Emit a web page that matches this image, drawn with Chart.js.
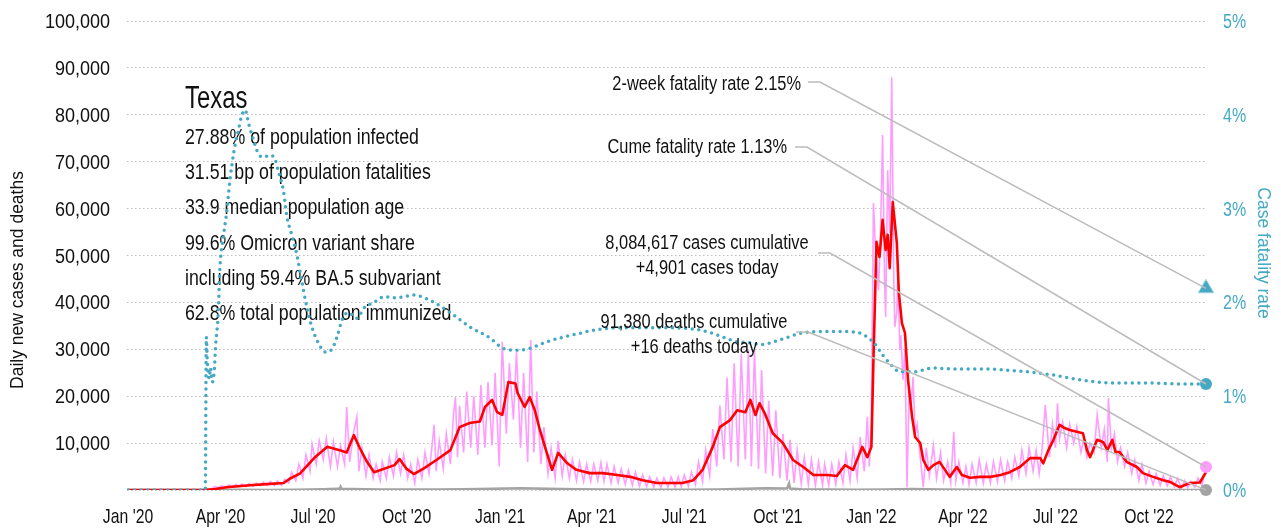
<!DOCTYPE html>
<html>
<head>
<meta charset="utf-8">
<script src="https://cdn.jsdelivr.net/npm/chart.js@4.4.1/dist/chart.umd.min.js"></script>
<style>
  html, body { margin: 0; padding: 0; background: #fff; }
  #wrap { width: 1281px; height: 529px; }
</style>
</head>
<body>
<div id="wrap"><canvas id="chart" width="1281" height="529"></canvas></div>
<script>
// x values are days since 1 Jan 2020
const quarterDays = [0, 91, 182, 274, 366, 456, 547, 639, 731, 821, 912, 1004];
const quarterLabels = ["Jan '20", "Apr '20", "Jul '20", "Oct '20", "Jan '21", "Apr '21",
                       "Jul '21", "Oct '21", "Jan '22", "Apr '22", "Jul '22", "Oct '22"];

// 7-day average of new cases (red)
const avgDays = [0, 75, 86, 97, 120, 140, 153, 159, 169, 183, 196, 208, 215, 222, 228, 235, 242, 262, 267, 274,
  281, 291, 304, 317, 326, 336, 346, 351, 358, 363, 368, 374, 381, 383, 390, 395, 400, 405, 410, 417,
  423, 432, 441, 454, 467, 481, 494, 506, 520, 532, 545, 556, 565, 575, 582, 592, 599, 607, 612, 617,
  621, 626, 634, 644, 654, 664, 674, 688, 697, 705, 713, 722, 727, 731, 733, 736, 739, 742, 745, 747,
  749, 752, 756, 758, 761, 764, 767, 771, 774, 779, 782, 787, 792, 798, 808, 815, 820, 828, 838, 848,
  858, 867, 877, 887, 897, 900, 905, 910, 916, 921, 926, 933, 939, 943, 946, 953, 959, 963, 968, 971,
  975, 982, 992, 998, 1008, 1018, 1025, 1034, 1044, 1054, 1060];
const avgCases = [0, 0, 200, 600, 1000, 1300, 1500, 2400, 3500, 6800, 9200, 8500, 8000, 11700, 8900, 6000, 3800, 5300, 6600, 4500,
  3400, 4600, 6500, 8500, 13400, 14300, 14600, 17700, 19200, 16600, 16000, 23000, 22700, 20700, 17700, 19800, 17000, 12800, 9200, 4300,
  7900, 5700, 4300, 3600, 3600, 3200, 2800, 2100, 1500, 1500, 1500, 2100, 4300, 9200, 13400, 14900, 17000, 16600, 19200, 16000,
  18500, 16400, 12100, 10000, 6400, 4900, 3200, 3200, 3000, 5300, 4300, 9200, 7000, 9200, 27700, 52900, 49700, 57600, 51200, 54400,
  47300, 61400, 52700, 42000, 35600, 33500, 23500, 15600, 11300, 10000, 6400, 4300, 5300, 6000, 2800, 4900, 3200, 2600, 2800, 2800,
  3200, 3800, 4900, 6800, 6800, 5700, 8500, 10700, 13900, 13200, 12800, 12400, 12100, 8500, 7000, 10700, 10200, 8500, 10700, 8100,
  8100, 6000, 4900, 3600, 2800, 2100, 1700, 600, 1500, 1600, 3800];

// reported daily new cases (pink)
const dailyDays = [0, 68, 75, 78, 82, 85, 89, 92, 96, 99, 103, 106, 109, 112, 116, 119, 123, 126, 130, 133,
  137, 140, 144, 147, 151, 154, 158, 161, 165, 168, 172, 175, 179, 181, 185, 188, 192, 195, 199, 202,
  206, 209, 213, 215, 218, 222, 225, 227, 230, 234, 237, 241, 244, 248, 250, 254, 257, 261, 264, 268,
  271, 275, 278, 282, 285, 289, 292, 296, 299, 301, 303, 306, 310, 313, 317, 320, 322, 324, 326, 330,
  333, 337, 340, 344, 347, 351, 354, 358, 361, 365, 368, 372, 375, 379, 382, 386, 389, 393, 396, 399,
  402, 406, 409, 413, 416, 420, 423, 427, 430, 434, 437, 441, 444, 448, 451, 455, 458, 462, 465, 468,
  471, 475, 478, 482, 485, 489, 492, 496, 499, 503, 506, 510, 513, 517, 520, 524, 527, 531, 534, 538,
  541, 544, 547, 551, 554, 558, 561, 565, 568, 572, 575, 579, 582, 586, 589, 593, 596, 600, 603, 607,
  610, 613, 616, 620, 623, 627, 630, 634, 637, 641, 644, 648, 651, 655, 658, 662, 665, 669, 672, 676,
  679, 683, 685, 689, 692, 696, 699, 703, 706, 710, 713, 717, 720, 724, 727, 729, 731, 733, 735, 738,
  740, 742, 744, 745, 747, 749, 751, 753, 754, 756, 757, 759, 760, 762, 764, 766, 768, 770, 772, 774,
  776, 779, 782, 785, 788, 792, 795, 799, 802, 806, 809, 812, 814, 817, 821, 824, 827, 830, 834, 837,
  841, 844, 848, 851, 855, 858, 862, 865, 869, 872, 876, 879, 883, 886, 890, 893, 896, 899, 902, 906,
  909, 912, 914, 916, 919, 923, 926, 930, 933, 937, 940, 943, 946, 950, 953, 957, 960, 963, 964, 967,
  970, 973, 976, 980, 983, 987, 990, 994, 997, 1001, 1004, 1008, 1011, 1015, 1018, 1022, 1025, 1029, 1032, 1036,
  1039, 1042, 1045, 1049, 1052, 1056, 1060];
const dailyCases = [0, 0, 100, 300, 200, 700, 500, 900, 600, 1100, 700, 1200, 800, 1300, 700, 1400, 800, 1500, 900, 1700,
  1000, 1800, 900, 1900, 1000, 2300, 1500, 3800, 2000, 5500, 2500, 7500, 4000, 9800, 5500, 10500, 6500, 11000, 5000, 10200,
  5000, 9500, 5500, 17700, 6000, 12500, 15600, 4000, 9000, 3000, 7500, 2500, 5500, 2000, 6000, 2500, 7000, 3000, 8100, 3500,
  7500, 2500, 5500, 1500, 6500, 2500, 8000, 3500, 9500, 13900, 4000, 10500, 4500, 12000, 5500, 16000, 19800, 7000, 18000, 8000,
  21000, 9000, 20000, 7500, 22400, 9000, 23000, 9500, 25000, 5000, 31600, 12000, 27000, 15000, 29400, 9000, 25000, 6000, 32000, 8000,
  21000, 5500, 13400, 3500, 9000, 2500, 10500, 3000, 7500, 2500, 6500, 2000, 6000, 1800, 5500, 1800, 5500, 2000, 5800, 1800,
  5500, 1500, 5000, 1500, 4500, 1200, 4200, 1000, 3800, 800, 3200, 700, 2800, 600, 2500, 500, 2600, 600, 2800, 600,
  2800, 700, 3200, 800, 3800, 1200, 6000, 1800, 8500, 3000, 13000, 5000, 18000, 6500, 24000, 6000, 27000, 5000, 29000, 6500,
  30000, 5000, 29800, 4500, 25600, 3500, 19000, 3000, 17000, 2500, 12000, 2000, 10700, 1500, 8500, 1300, 7000, 1200, 6500, 1000,
  6000, 1000, 5500, 1000, 5500, 1200, 6000, 1500, 7500, 2000, 9000, 2500, 11300, 4000, 15600, 5000, 14900, 61200, 51800, 42600,
  55000, 75700, 44000, 36900, 68200, 54800, 88000, 45000, 34800, 38000, 45400, 29800, 33000, 23500, 30000, 600, 20000, 18000, 24100, 12000,
  14000, 7000, 600, 9000, 3000, 9500, 2500, 8000, 2000, 6000, 1500, 12400, 2000, 6000, 1500, 5000, 1200, 5500, 1500, 6400,
  1500, 5500, 1500, 6000, 1800, 6400, 2000, 6000, 2500, 7000, 3000, 8500, 3500, 9000, 4000, 8500, 3500, 9000, 18100, 7000,
  14000, 9000, 18500, 11000, 14500, 9000, 14000, 10000, 13500, 8000, 11000, 7000, 10000, 8000, 16000, 9000, 13000, 6000, 19600, 9000,
  12000, 6000, 9000, 5000, 8000, 3500, 6400, 2000, 5500, 1500, 4000, 1200, 3500, 1000, 3000, 900, 2800, 700, 2500, 300,
  2000, 500, 1800, 600, 2500, 1000, 4901];

// daily new deaths (grey)
const deathDays = [0, 68, 82, 109, 137, 165, 192, 206, 208, 209, 210, 220, 248, 275, 303, 330, 358, 386, 399, 413,
  441, 468, 496, 524, 551, 579, 607, 627, 648, 650, 651, 662, 689, 717, 745, 772, 800, 827, 855, 883,
  910, 938, 966, 993, 1021, 1048, 1060];
const deaths = [0, 0, 20, 30, 25, 40, 150, 250, 250, 700, 250, 200, 120, 90, 100, 150, 250, 350, 300, 250,
  150, 80, 50, 30, 30, 100, 250, 350, 300, 1400, 300, 150, 80, 50, 100, 200, 100, 30, 20, 15,
  30, 50, 40, 30, 20, 15, 16];

// case fatality rate, % (teal dotted, right axis)
const cfrDays = [0, 76, 77, 78, 80, 81, 83, 85, 86, 89, 90, 94, 97, 100, 104, 109, 112, 115, 119, 124,
  129, 134, 139, 144, 148, 153, 156, 161, 166, 171, 176, 181, 188, 194, 201, 206, 211, 217, 225, 232,
  242, 252, 262, 271, 281, 291, 301, 317, 336, 356, 369, 383, 395, 412, 428, 444, 461, 494, 526, 560,
  575, 585, 599, 612, 621, 641, 661, 680, 700, 717, 727, 735, 742, 749, 759, 772, 792, 811, 841, 874,
  907, 939, 972, 1005, 1037, 1060];
const cfrPct = [0, 0, 1.63, 1.36, 1.19, 1.30, 1.15, 1.30, 1.51, 1.94, 2.29, 2.72, 2.96, 3.28, 3.60, 3.86, 4.00, 4.05, 3.89, 3.71,
  3.57, 3.55, 3.57, 3.54, 3.39, 3.18, 2.93, 2.72, 2.51, 2.22, 1.94, 1.73, 1.55, 1.47, 1.51, 1.65, 1.83, 1.89, 1.83, 1.94,
  2.00, 2.06, 2.05, 2.06, 2.08, 2.05, 2.00, 1.89, 1.74, 1.62, 1.51, 1.49, 1.51, 1.58, 1.63, 1.67, 1.71, 1.73, 1.73, 1.71,
  1.67, 1.63, 1.58, 1.57, 1.55, 1.60, 1.67, 1.69, 1.69, 1.68, 1.63, 1.55, 1.44, 1.35, 1.26, 1.26, 1.30, 1.29, 1.29, 1.27,
  1.23, 1.17, 1.14, 1.14, 1.13, 1.13];

const lastDay = 1060;
const casesToday = 4901;
const deathsToday = 16;
const cumeRate = 1.13;
const twoWeekRate = 2.15;

const infoLines = [
  '27.88% of population infected',
  '31.51 bp of population fatalities',
  '33.9 median population age',
  '99.6% Omicron variant share',
  'including 59.4% BA.5 subvariant',
  '62.8% total population immunized'
];

const TEAL = '#45a9c4';
const PINK = '#ff9dff';
const SANS = "'Liberation Sans', Arial, sans-serif";

const pts = (xs, ys) => xs.map((d, i) => ({ x: d, y: ys[i] }));

// no narrow face is installed, so squeeze the text horizontally
function narrowText(ctx, text, x, y, size, align, sx, color) {
  ctx.save();
  ctx.translate(x, y);
  ctx.scale(sx, 1);
  ctx.font = size + 'px ' + SANS;
  ctx.fillStyle = color;
  ctx.textAlign = align;
  ctx.textBaseline = 'alphabetic';
  ctx.fillText(text, 0, 0);
  ctx.restore();
}

const decor = {
  id: 'decor',
  beforeDatasetsDraw(chart) {
    const ctx = chart.ctx;
    narrowText(ctx, 'Texas', 185, 108, 31, 'left', 0.77, '#111');
    infoLines.forEach((t, i) => narrowText(ctx, t, 185, 144 + i * 35.2, 22, 'left', 0.807, '#111'));
  },
  afterDatasetsDraw(chart) {
    const { ctx, scales: { x, y, y2 } } = chart;
    const xe = x.getPixelForValue(lastDay);
    const notes = [
      { lines: ['2-week fatality rate 2.15%'], align: 'right', tx: 801, base: 90, lx: 808, ly: 82, ey: y2.getPixelForValue(twoWeekRate) },
      { lines: ['Cume fatality rate 1.13%'], align: 'right', tx: 787, base: 153, lx: 795, ly: 147, ey: y2.getPixelForValue(cumeRate) },
      { lines: ['8,084,617 cases cumulative', '+4,901 cases today'], align: 'center', tx: 707, base: 249, lx: 818, ly: 253, ey: y.getPixelForValue(casesToday) },
      { lines: ['91,380 deaths cumulative', '+16 deaths today'], align: 'center', tx: 694, base: 328, lx: 796, ly: 332, ey: y.getPixelForValue(deathsToday) }
    ];
    ctx.save();
    ctx.strokeStyle = '#bcbcbc';
    ctx.lineWidth = 1.5;
    notes.forEach(n => {
      ctx.beginPath();
      ctx.moveTo(n.lx, n.ly);
      ctx.lineTo(n.lx + 12, n.ly);
      ctx.lineTo(xe, n.ey);
      ctx.stroke();
    });
    ctx.restore();
    notes.forEach(n => {
      n.lines.forEach((t, i) => narrowText(ctx, t, n.tx, n.base + i * 25, 20, n.align, 0.82, '#111'));
    });
  },
  afterDraw(chart) {
    const { ctx, scales: { x, y, y2 } } = chart;
    // tick labels
    y.ticks.forEach(t => {
      if (t.value === 0) return;
      narrowText(ctx, t.value.toLocaleString('en-US'), 110, y.getPixelForValue(t.value) + 7, 20, 'right', 0.9, '#111');
    });
    y2.ticks.forEach(t => {
      narrowText(ctx, t.value + '%', 1223, y2.getPixelForValue(t.value) + 7, 20, 'left', 0.8, TEAL);
    });
    quarterDays.forEach((d, i) => {
      narrowText(ctx, quarterLabels[i], x.getPixelForValue(d), 523, 21, 'center', 0.75, '#111');
    });
    // axis titles
    ctx.save();
    ctx.font = '17.5px ' + SANS;
    ctx.textAlign = 'center';
    ctx.textBaseline = 'middle';
    ctx.save();
    ctx.translate(18, 280);
    ctx.rotate(-Math.PI / 2);
    ctx.fillStyle = '#111';
    ctx.fillText('Daily new cases and deaths', 0, 0);
    ctx.restore();
    ctx.translate(1263, 253);
    ctx.rotate(Math.PI / 2);
    ctx.fillStyle = TEAL;
    ctx.fillText('Case fatality rate', 0, 0);
    ctx.restore();
  }
};

new Chart(document.getElementById('chart'), {
  type: 'line',
  data: {
    datasets: [
      { label: 'Cases today', data: [{ x: lastDay, y: casesToday }], yAxisID: 'y', showLine: false, clip: false,
        pointRadius: 6, pointBackgroundColor: PINK, pointBorderWidth: 0 },
      { label: 'Deaths today', data: [{ x: lastDay, y: deathsToday }], yAxisID: 'y', showLine: false, clip: false,
        pointRadius: 6, pointBackgroundColor: '#a3a3a3', pointBorderWidth: 0 },
      { label: 'Cume rate', data: [{ x: lastDay, y: cumeRate }], yAxisID: 'y2', showLine: false, clip: false,
        pointRadius: 6, pointBackgroundColor: TEAL, pointBorderWidth: 0 },
      { label: '2-week rate', data: [{ x: lastDay, y: twoWeekRate }], yAxisID: 'y2', showLine: false, clip: false,
        pointStyle: 'triangle', pointRadius: 9, pointBackgroundColor: TEAL, pointBorderColor: '#9fd3e0', pointBorderWidth: 1 },
      { label: 'Case fatality rate', data: pts(cfrDays, cfrPct), yAxisID: 'y2',
        borderColor: TEAL, borderWidth: 3.5, borderDash: [0, 6.6], borderCapStyle: 'round',
        cubicInterpolationMode: 'monotone', pointRadius: 0 },
      { label: '7-day average', data: pts(avgDays, avgCases), yAxisID: 'y',
        borderColor: '#ff0000', borderWidth: 2.6, pointRadius: 0, tension: 0, borderJoinStyle: 'round' },
      { label: 'Deaths', data: pts(deathDays, deaths), yAxisID: 'y',
        borderColor: '#a3a3a3', borderWidth: 2.5, pointRadius: 0, tension: 0 },
      { label: 'Daily cases', data: pts(dailyDays, dailyCases), yAxisID: 'y',
        borderColor: PINK, borderWidth: 1.6, pointRadius: 0, tension: 0 }
    ]
  },
  options: {
    responsive: false,
    animation: false,
    devicePixelRatio: 1,
    layout: { padding: { top: 21, left: 0, right: 0, bottom: 0 } },
    plugins: { legend: { display: false }, tooltip: { enabled: false } },
    scales: {
      x: {
        type: 'linear', min: -1, max: 1061,
        afterBuildTicks: s => { s.ticks = quarterDays.map(v => ({ value: v })); },
        afterFit: s => { s.height = 39; },
        grid: { display: false },
        border: { display: false },
        ticks: { display: false, autoSkip: false }
      },
      y: {
        position: 'left', min: 0, max: 100000,
        afterFit: s => { s.width = 127; },
        grid: { color: '#bdbdbd', lineWidth: 1, drawTicks: false },
        border: { display: false, dash: [1.5, 2.5] },
        ticks: { display: false, stepSize: 10000 }
      },
      y2: {
        position: 'right', min: 0, max: 5,
        afterFit: s => { s.width = 74; },
        grid: { display: false, drawTicks: false },
        border: { display: false },
        ticks: { display: false, stepSize: 1 }
      }
    }
  },
  plugins: [decor]
});
</script>
</body>
</html>
